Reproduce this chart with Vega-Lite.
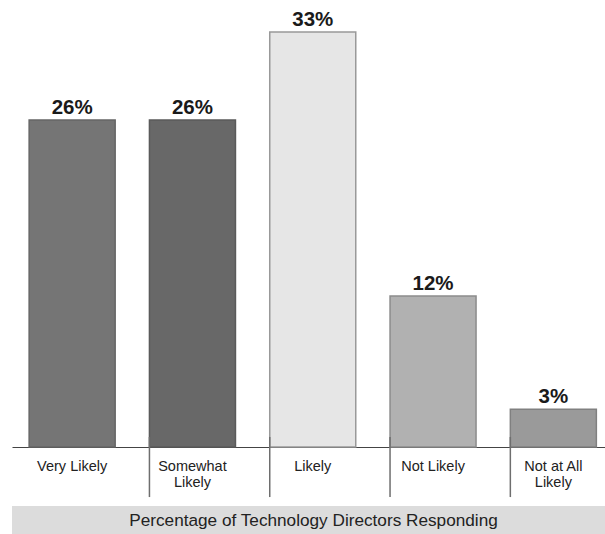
{
  "$schema": "https://vega.github.io/schema/vega-lite/v6.json",
  "autosize": {"type": "none"},
  "width": 593,
  "height": 447,
  "padding": {"left": 12, "top": 0, "right": 0, "bottom": 87},
  "background": "white",
  "config": {"view": {"stroke": null}, "font": "Liberation Sans"},
  "data": {
    "values": [
      {"cat": "Very Likely", "pct": 26, "pctLabel": "26%", "color": "#757575", "edge": "#666666"},
      {"cat": "Somewhat Likely", "pct": 26, "pctLabel": "26%", "color": "#686868", "edge": "#5a5a5a"},
      {"cat": "Likely", "pct": 33, "pctLabel": "33%", "color": "#e6e6e6", "edge": "#999999"},
      {"cat": "Not Likely", "pct": 12, "pctLabel": "12%", "color": "#b1b1b1", "edge": "#8c8c8c"},
      {"cat": "Not at All Likely", "pct": 3, "pctLabel": "3%", "color": "#9a9a9a", "edge": "#808080"}
    ]
  },
  "layer": [
    {
      "mark": {"type": "bar", "strokeWidth": 1.5},
      "encoding": {
        "x": {
          "field": "cat",
          "type": "nominal",
          "sort": null,
          "scale": {"domain": ["Very Likely", "Somewhat Likely", "Likely", "Not Likely", "Not at All Likely"], "range": [0, 601.5], "paddingInner": 0.285, "paddingOuter": 0.1425},
          "axis": {
            "title": null,
            "domainColor": "#444444",
            "domainWidth": 1.2,
            "ticks": false,
            "labelAngle": 0,
            "labelFontSize": 14.5,
            "labelColor": "#222222",
            "labelPadding": 12,
            "labelLineHeight": 16,
            "labelExpr": "split(datum.label == 'Somewhat Likely' ? 'Somewhat|Likely' : datum.label == 'Not at All Likely' ? 'Not at All|Likely' : datum.label, '|')"
          }
        },
        "y": {"field": "pct", "type": "quantitative", "scale": {"domain": [0, 35.54], "nice": false}, "axis": null},
        "fill": {"field": "color", "type": "nominal", "scale": null},
        "stroke": {"field": "edge", "type": "nominal", "scale": null}
      }
    },
    {
      "mark": {"type": "text", "fontSize": 20.5, "fontWeight": "bold", "baseline": "alphabetic", "dy": -6, "color": "#1a1a1a"},
      "encoding": {
        "x": {"field": "cat", "type": "nominal", "sort": null},
        "y": {"field": "pct", "type": "quantitative"},
        "text": {"field": "pctLabel", "type": "nominal"}
      }
    },
    {
      "transform": [{"filter": "datum.cat != 'Very Likely'"}],
      "mark": {"type": "rule", "color": "#6e6e6e", "strokeWidth": 1.5},
      "encoding": {
        "x": {"field": "cat", "type": "nominal", "sort": null, "bandPosition": 0},
        "y": {"datum": 0.8},
        "y2": {"datum": -3.98}
      }
    },
    {
      "data": {"values": [{"title": "Percentage of Technology Directors Responding"}]},
      "mark": {"type": "rect", "color": "#dcdcdc"},
      "encoding": {
        "y": {"datum": -4.7},
        "y2": {"datum": -6.95}
      }
    },
    {
      "data": {"values": [{"title": "Percentage of Technology Directors Responding"}]},
      "mark": {"type": "text", "fontSize": 17.2, "color": "#222222", "baseline": "middle", "dx": 5},
      "encoding": {
        "y": {"datum": -5.85},
        "text": {"field": "title", "type": "nominal"}
      }
    }
  ]
}
